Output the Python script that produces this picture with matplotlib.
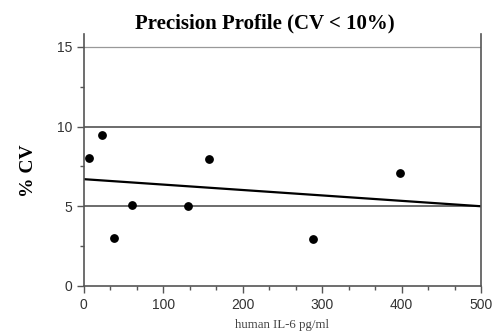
import matplotlib.pyplot as plt
import numpy as np

# concentration (pg/ml) and %CV
conc = [6, 23, 38, 61, 131, 158, 289, 398]
cv = [8.0, 9.45, 3.0, 5.05, 5.0, 7.95, 2.95, 7.1]

fit_x = [0, 500]
fit_y = [6.7, 5.0]

fig = plt.figure(figsize=(4.93, 3.31), dpi=100)
ax = fig.add_axes([0.170, 0.136, 0.806, 0.761])

ax.axhline(15, color='#999999', lw=0.9, zorder=1)
for yy in [5, 10]:
    ax.axhline(yy, color='#444444', lw=1.1, zorder=1)

ax.plot(fit_x, fit_y, color='black', lw=1.6, zorder=2)
ax.plot(conc, cv, 'o', color='black', markersize=5.3, zorder=3)

ax.set_xlim(0, 500)
ax.set_ylim(0, 15.8)
ax.set_xticks([0, 100, 200, 300, 400, 500])
ax.set_xticks([x for x in np.arange(0, 500, 100 / 3) if x % 100 > 1 and x % 100 < 99], minor=True)
ax.set_yticks([0, 5, 10, 15])
ax.set_yticks([2.5, 7.5, 12.5], minor=True)

for s in ['left', 'right', 'bottom']:
    ax.spines[s].set_color('#555555')
    ax.spines[s].set_linewidth(1.2)
ax.spines['top'].set_visible(False)

ax.tick_params(axis='both', which='major', length=5, width=1, color='#555555',
               labelsize=10, labelcolor='#333333')
ax.tick_params(axis='both', which='minor', length=3, width=1, color='#555555')
for lab in ax.get_xticklabels() + ax.get_yticklabels():
    lab.set_family('Liberation Sans')

ax.set_title('Precision Profile (CV < 10%)', family='Liberation Serif',
             fontweight='bold', fontsize=15, x=0.456, pad=4)
ax.set_ylabel('% CV', family='Liberation Serif', fontweight='bold', fontsize=14)
ax.yaxis.set_label_coords(-0.118, 0.456)
ax.set_xlabel('human IL-6 pg/ml', family='Liberation Serif', fontsize=9.3,
              color='#444444', labelpad=5)

fig.savefig('out.png', dpi=100)
